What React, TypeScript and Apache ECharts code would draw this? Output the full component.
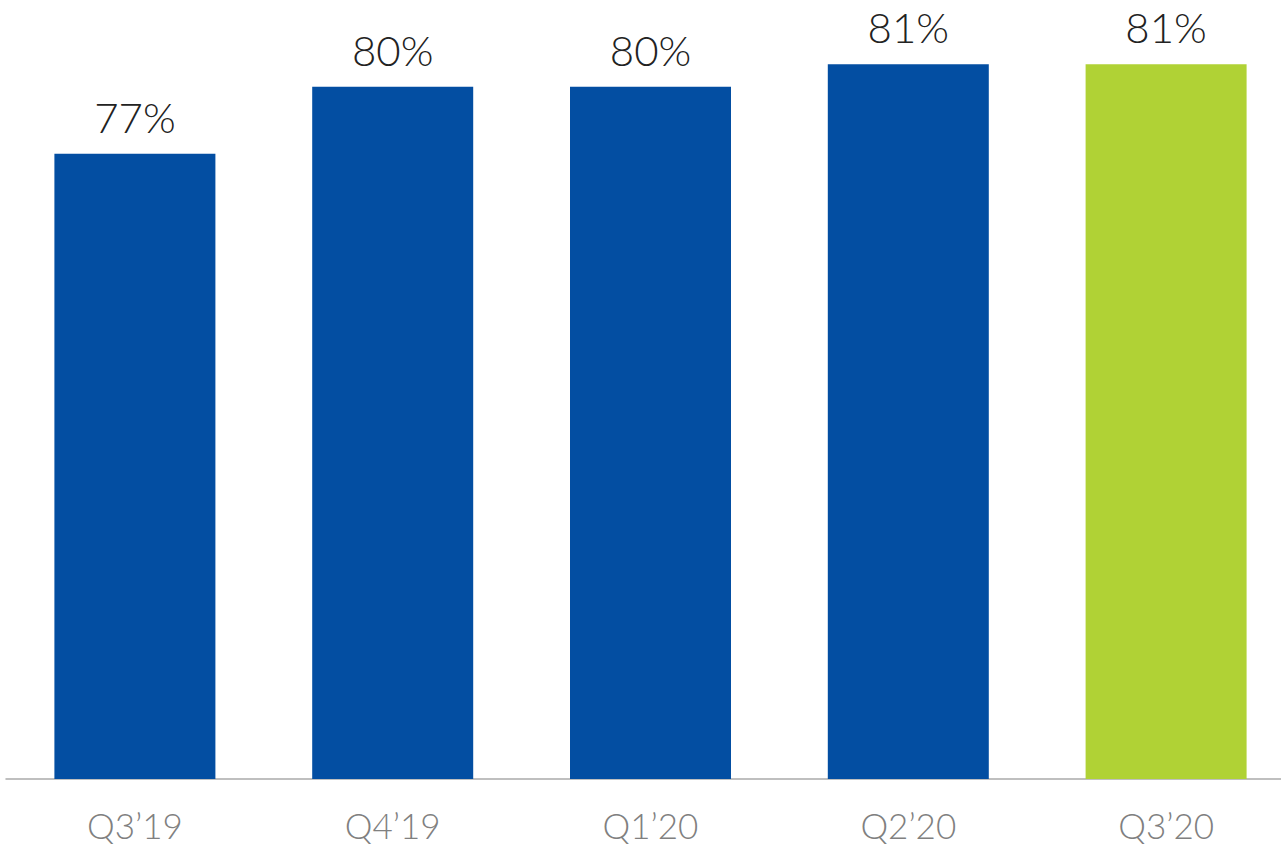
import React, { useEffect, useRef } from "react";
import * as echarts from "echarts";

const categories = ["Q3\u201919", "Q4\u201919", "Q1\u201920", "Q2\u201920", "Q3\u201920"];
const values = [77, 80, 80, 81, 81];
const barColors = ["#034ea2", "#034ea2", "#034ea2", "#034ea2", "#b0d235"];

export default function App() {
  const ref = useRef<HTMLDivElement>(null);
  useEffect(() => {
    if (!ref.current) return;
    const chart = echarts.init(ref.current, null, { renderer: "svg" });
    chart.setOption({
      animation: false,
      backgroundColor: "#ffffff",
      grid: { left: 6, right: 11, top: 42, bottom: 65, containLabel: false },
      xAxis: {
        type: "category",
        data: categories,
        axisLine: { show: true, lineStyle: { color: "#aaaaaa", width: 1.5 } },
        axisTick: { show: false },
        axisLabel: {
          color: "#808080",
          fontSize: 35,
          fontFamily: "Lato",
          fontWeight: 300,
          margin: 28,
        },
      },
      yAxis: {
        type: "value",
        min: 49,
        max: 82,
        show: false,
        splitLine: { show: false },
      },
      series: [
        {
          type: "bar",
          barWidth: 161,
          data: values.map((v, i) => ({ value: v, itemStyle: { color: barColors[i] } })),
          label: {
            show: true,
            position: "top",
            distance: 16,
            formatter: (p: any) => p.value + "%",
            color: "#222222",
            fontSize: 42,
            fontFamily: "Lato",
            fontWeight: 300,
          },
        },
      ],
    });
    return () => chart.dispose();
  }, []);
  return (
    <div
      style={{ position: "absolute", left: 0, top: 0, width: 1281, height: 844, overflow: "hidden" }}
    >
      <div ref={ref} style={{ width: 1306, height: 844 }} />
    </div>
  );
}
